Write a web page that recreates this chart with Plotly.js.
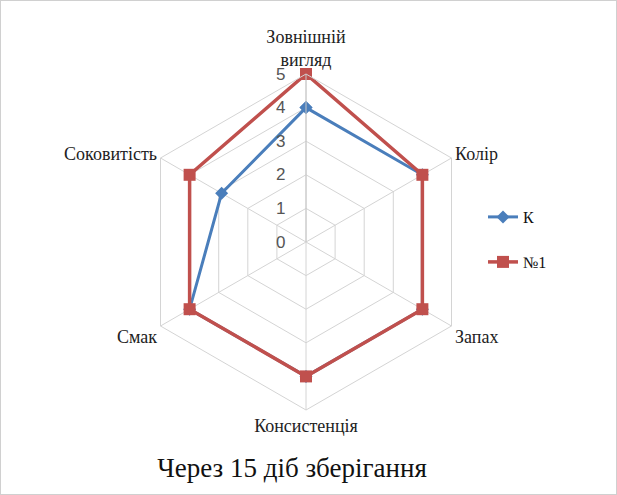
<!DOCTYPE html>
<html><head><meta charset="utf-8">
<script src="https://cdn.plot.ly/plotly-3.0.1.min.js"></script>
<style>html,body{margin:0;padding:0;background:#fff}#c{width:615px;height:493px;border:1px solid #d0d0d0}</style>
</head><body><div id="c"></div>
<script>
const categories = ['Зовнішній<br>вигляд', 'Колір', 'Запах', 'Консистенція', 'Смак', 'Соковитість'];
const seriesK = [4, 4, 4, 4, 4, 2.9];
const series1 = [5, 4, 4, 4, 4, 4];
const radialTicks = [0, 1, 2, 3, 4, 5];
const close = a => a.concat([a[0]]);
const serif = 'Liberation Serif, Times New Roman, serif';
const data = [
  {type:'scatterpolar', r: close(seriesK), theta: close(categories), name:'К', mode:'lines+markers',
   line:{color:'#4A7EBB', width:3}, marker:{symbol:'diamond', size:10, color:'#4A7EBB'}, legend:'legend'},
  {type:'scatterpolar', r: close(series1), theta: close(categories), name:'№1', mode:'lines+markers',
   line:{color:'#C0504D', width:3.5}, marker:{symbol:'square', size:12, color:'#C0504D'}, legend:'legend2'}
];
const layout = {
  width:615, height:493, margin:{l:0,r:0,t:0,b:0}, paper_bgcolor:'#fff',
  showlegend:true,
  title:{text:'Через 15 діб зберігання', font:{family:serif, size:27, color:'#111'}, x:291/615, xanchor:'center', y:1-467/493, yanchor:'middle', yref:'paper'},
  polar:{
    domain:{x:[137/615, 473/615], y:[(493-409)/493, (493-73)/493]},
    bgcolor:'rgba(0,0,0,0)',
    angularaxis:{rotation:90, direction:'clockwise', gridcolor:'#d4d4d4', linecolor:'#d4d4d4', showline:true, linewidth:1,
      tickfont:{family:serif, size:18, color:'#222'}, ticks:'', type:'category'},
    radialaxis:{range:[0,5], tickvals:radialTicks, ticktext:radialTicks.map(v => v + '\u00a0\u00a0\u00a0'), angle:90, tickangle:90, gridcolor:'#d4d4d4', linecolor:'#c8c8c8',
      showline:true, ticks:'', tickfont:{family:'Liberation Sans, Arial, sans-serif', size:17, color:'#555'}, side:'counterclockwise'},
    gridshape:'linear'
  },
  legend:{x:482/615, y:1-216/493, xanchor:'left', yanchor:'middle', font:{family:serif, size:16, color:'#111'}, bgcolor:'rgba(0,0,0,0)'},
  legend2:{x:482/615, y:1-261/493, xanchor:'left', yanchor:'middle', font:{family:serif, size:16, color:'#111'}, bgcolor:'rgba(0,0,0,0)'}
};
Plotly.newPlot('c', data, layout, {displayModeBar:false, staticPlot:true});
</script></body></html>
